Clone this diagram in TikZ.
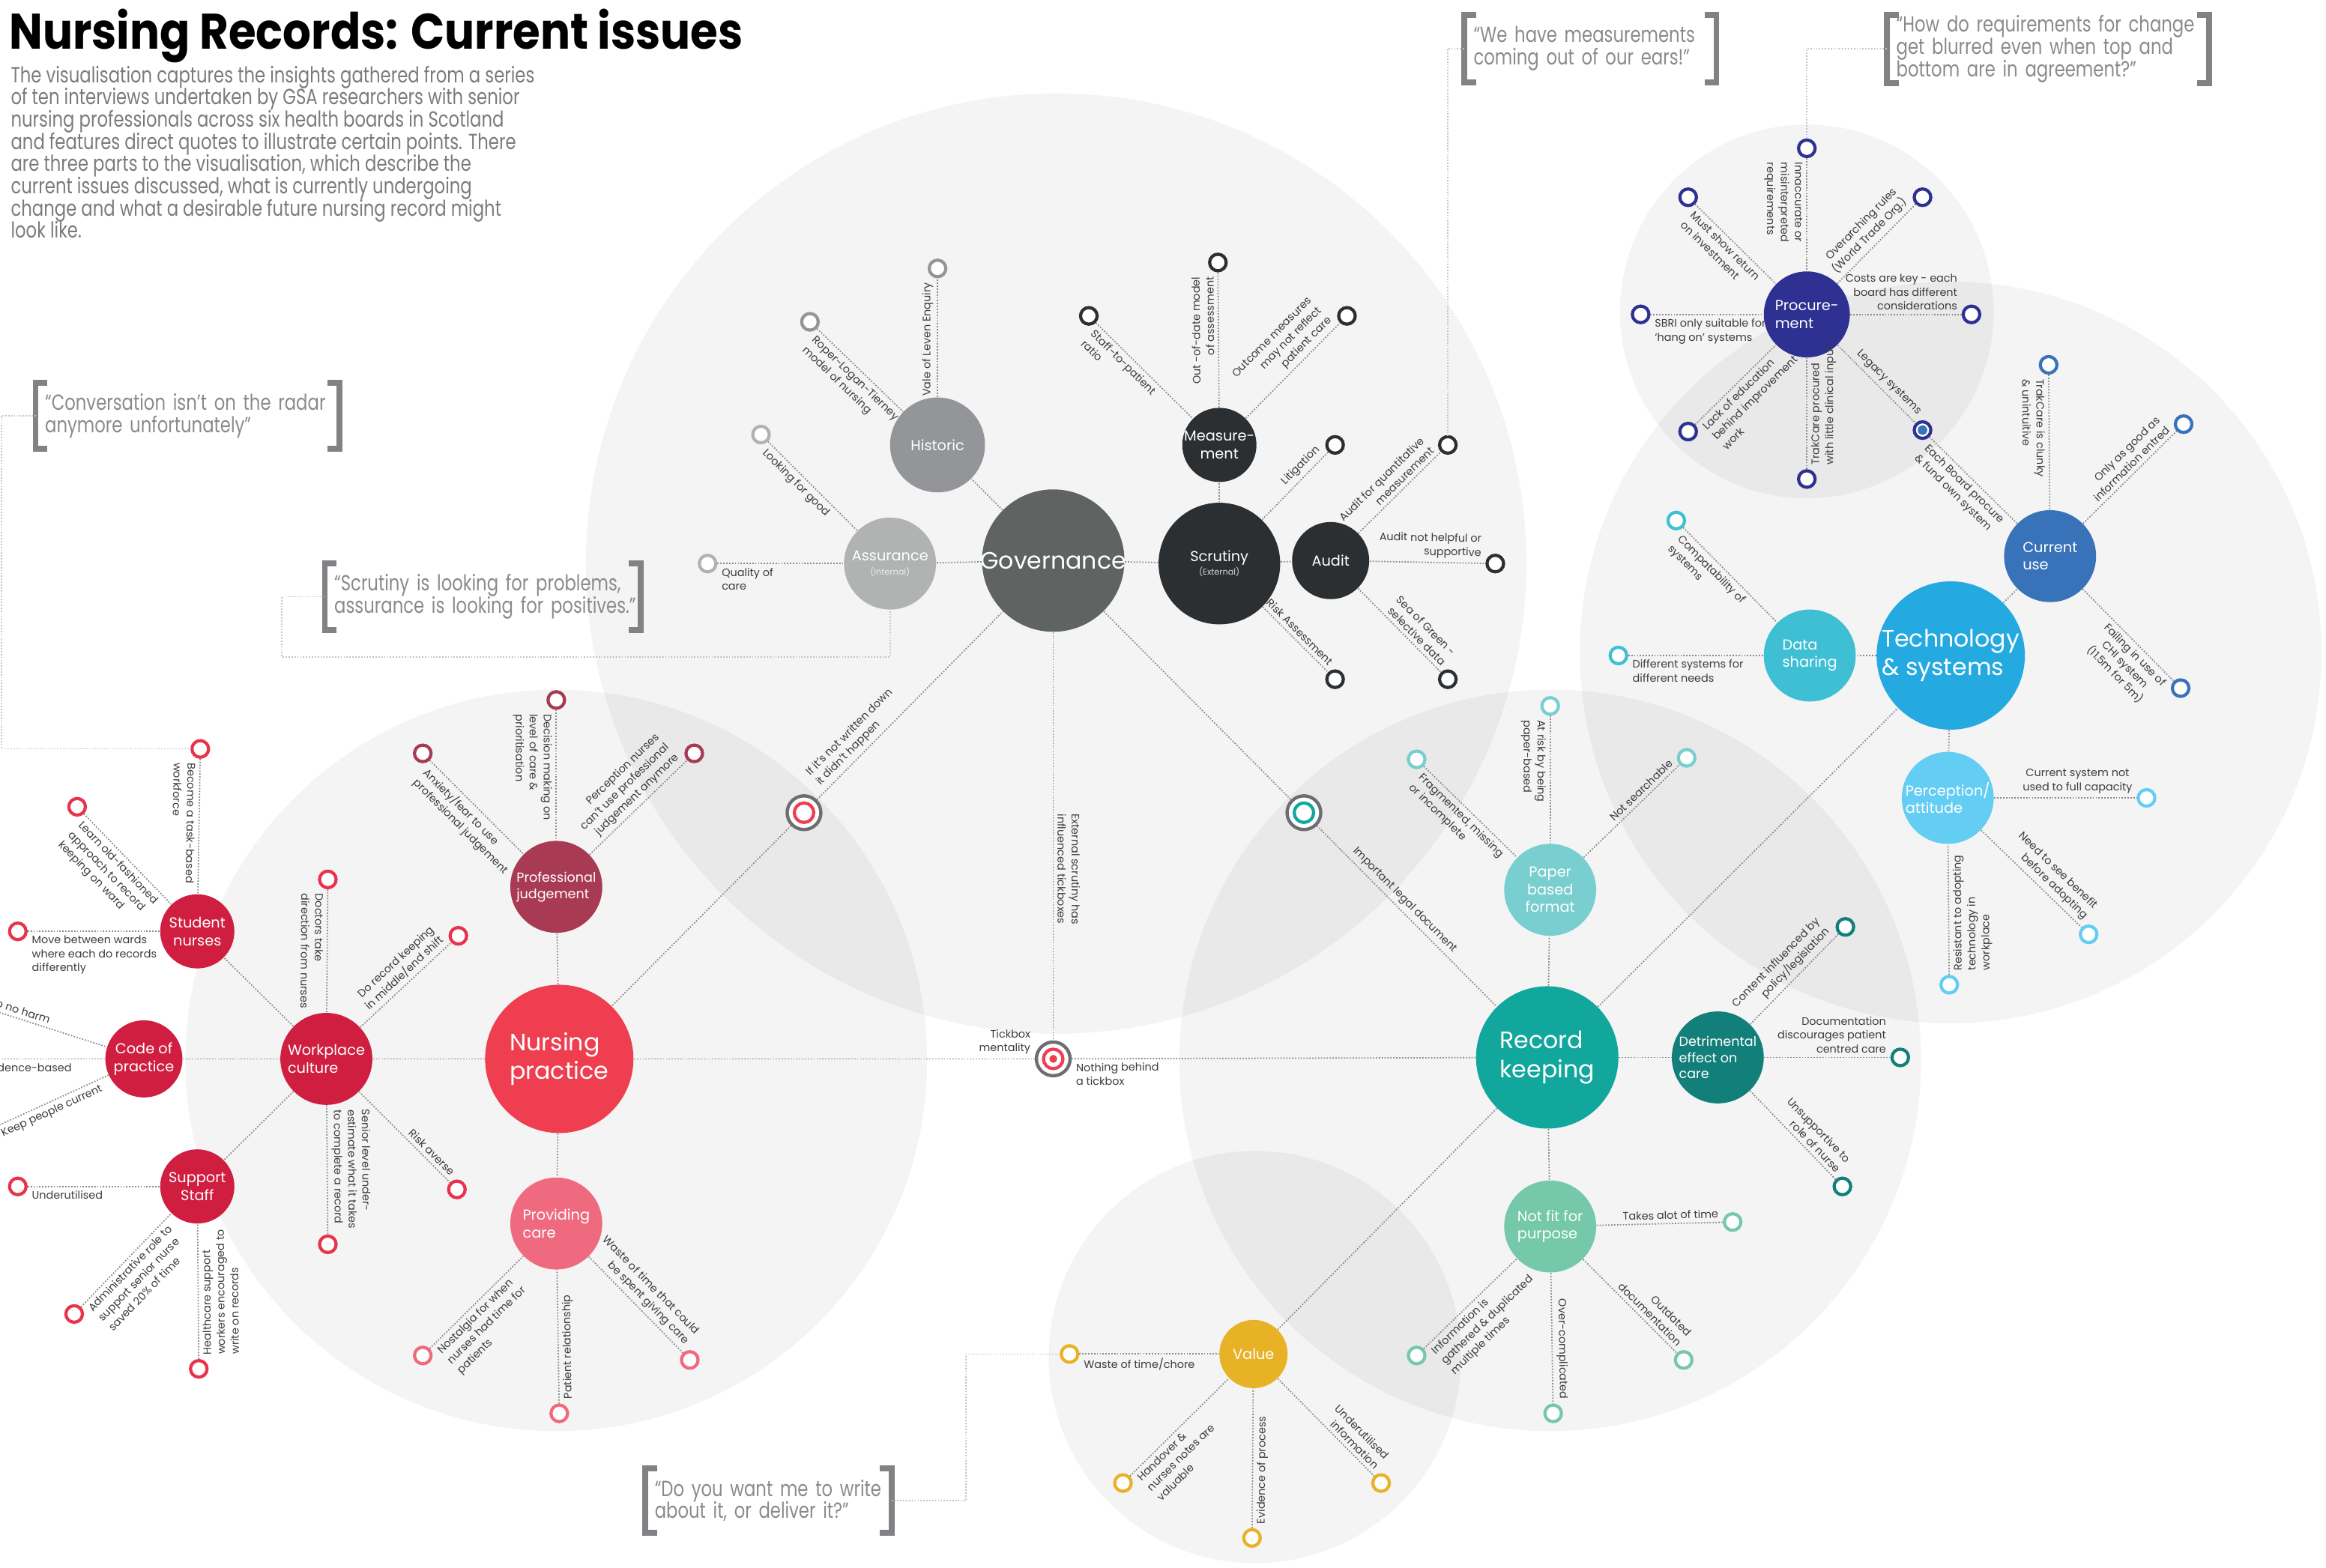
\documentclass[tikz,border=0pt]{standalone}
\usepackage{fontspec}
\setmainfont{Poppins}
\newfontfamily\condf[FakeStretch=0.78]{Poppins}
\newfontfamily\titlef[FakeStretch=0.89]{Poppins}
\usetikzlibrary{calc}
\definecolor{dotc}{HTML}{8A8A8A}
\definecolor{qlc}{HTML}{C4C4C4}
\definecolor{lblc}{HTML}{3C3C3C}
\definecolor{qtc}{HTML}{8A8A8A}
\definecolor{parc}{HTML}{7B7B7B}
\definecolor{brc}{HTML}{808285}
\definecolor{cGov}{HTML}{5F6362}
\definecolor{cHis}{HTML}{939598}
\definecolor{cAss}{HTML}{B1B3B3}
\definecolor{cScr}{HTML}{2B2F31}
\definecolor{cNP}{HTML}{EE3E50}
\definecolor{cPJ}{HTML}{A93A54}
\definecolor{cPC}{HTML}{F06A7F}
\definecolor{cWC}{HTML}{D01E40}
\definecolor{cWL}{HTML}{E8334B}
\definecolor{cRK}{HTML}{12A79D}
\definecolor{cPB}{HTML}{79CED0}
\definecolor{cDE}{HTML}{127F7B}
\definecolor{cNF}{HTML}{75C8AA}
\definecolor{cVal}{HTML}{E8B227}
\definecolor{cTech}{HTML}{25A9E1}
\definecolor{cDS}{HTML}{3FBFD4}
\definecolor{cCU}{HTML}{3873BA}
\definecolor{cPA}{HTML}{64CDF4}
\definecolor{cPro}{HTML}{2E3192}
\definecolor{cTgt}{HTML}{6D6E71}
\newcommand\tightls{\lineskiplimit=-20pt\lineskip=0pt}
\newcommand\lblf{\fontsize{4.1}{5.3}\selectfont\tightls}
\newcommand\midf{\fontsize{5.5}{6.7}\selectfont\tightls}
\newcommand\smf{\fontsize{5.0}{6.2}\selectfont\tightls}
\newcommand\bigf{\fontsize{9}{11}\selectfont\tightls}
\newcommand\subf{\fontsize{3.2}{3.6}\selectfont}
\newcommand\quotef{\condf\fontsize{8.3}{8.45}\selectfont\tightls}
\newcommand\qbrackets[2]{%
  \draw[brk] ($(#1.north west)+(8,0)$) -- (#1.north west) -- (#1.south west) -- ($(#1.south west)+(8,0)$);
  \draw[brk] ($(#1.north west -| #2)+(-8,0)$) -- (#1.north west -| #2) -- (#1.south west -| #2) -- ($(#1.south west -| #2)+(-8,0)$);}
\begin{document}
\begin{tikzpicture}[x=0.19796mm,y=-0.19796mm,
  hub/.style={circle,fill=#1,inner sep=0pt,draw=none},
  rad/.style={minimum size=#1*0.39592mm},
  htxt/.style={text=white,inner sep=0pt,align=center},
  lf/.style={circle,draw=#1,fill=white,line width=1.2pt,minimum size=6.3pt,inner sep=0pt},
  tgtO/.style={circle,draw=cTgt,fill=white,line width=1.25pt,minimum size=12.8pt,inner sep=0pt},
  tgtI/.style={circle,draw=#1,line width=1.2pt,minimum size=7.4pt,inner sep=0pt},
  conn/.style={draw=dotc,line width=0.5pt,dash pattern=on 0.5pt off 0.6pt},
  qline/.style={draw=qlc,line width=0.45pt,dash pattern=on 0.5pt off 0.6pt},
  lb/.style={font=\lblf,text=lblc,sloped,allow upside down,inner sep=1.4pt},
  brk/.style={draw=brc,line width=2.2pt},
  qt/.style={font=\quotef,text=qtc,align=left,inner xsep=3.4pt,inner ysep=0pt,anchor=north west,text width=150pt},
  bg/.style={fill=black,fill opacity=0.045}]
\useasboundingbox (0,0) rectangle (1568,1056.8);
\clip (0,0) rectangle (1568,1056.8);
% background circles
\fill[bg] (712,380) circle (317);
\fill[bg] (375,715) circle (250);
\fill[bg] (1045,715) circle (250);
\fill[bg] (1315,440) circle (250);
\fill[bg] (1218,210) circle (126);
\fill[bg] (846,915) circle (139);
% title and intro
\node[anchor=base west,inner sep=0pt,font=\titlef\bfseries\fontsize{19}{20}\selectfont] (title) at (6,33) {Nursing Records: Current issues};
\node[anchor=north west,inner sep=0pt,align=left,font=\quotef,text=parc] (intro) at (7,44) {The visualisation captures the insights gathered from a series\\of ten interviews undertaken by GSA researchers with senior\\nursing professionals across six health boards in Scotland\\and features direct quotes to illustrate certain points. There\\are three parts to the visualisation, which describe the\\current issues discussed, what is currently undergoing\\change and what a desirable future nursing record might\\look like.};
% quotes
\coordinate (q1r) at (1157,0);
\coordinate (q2r) at (1489,0);
\coordinate (q3r) at (229,0);
\coordinate (q4r) at (432,0);
\coordinate (q5r) at (601,0);
\node[qt,minimum height=25.3pt] (q1) at (987,10) {“We have measurements\\coming out of our ears!”};
\node[qt,minimum height=25.3pt] (q2) at (1272,10) {“How do requirements for change\\get blurred even when top and\\bottom are in agreement?”};
\node[qt,minimum height=24.75pt] (q3) at (24,258) {“Conversation isn’t on the radar\\anymore unfortunately”};
\node[qt,minimum height=24.75pt] (q4) at (219,380) {“Scrutiny is looking for problems,\\assurance is looking for positives.”};
\node[qt,minimum height=24.2pt] (q5) at (435,990) {“Do you want me to write\\about it, or deliver it?”};
\qbrackets{q1}{q1r}\qbrackets{q2}{q2r}\qbrackets{q3}{q3r}\qbrackets{q4}{q4r}\qbrackets{q5}{q5r}
% ---------- hubs ----------
\node[hub=cGov,rad=48] (gov) at (710,378) {};
\node[hub=cHis,rad=32] (his) at (632,300) {};
\node[hub=cAss,rad=31] (asr) at (600,380) {};
\node[hub=cScr,rad=25] (mea) at (822,300) {};
\node[hub=cScr,rad=41] (scr) at (822,380) {};
\node[hub=cScr,rad=26] (aud) at (897,378) {};
\node[hub=cNP,rad=50] (np) at (377,714) {};
\node[hub=cPJ,rad=31] (pj) at (375,598) {};
\node[hub=cPC,rad=31] (pc) at (375,825) {};
\node[hub=cWC,rad=31] (wc) at (220,714) {};
\node[hub=cWC,rad=25] (sn) at (133,628) {};
\node[hub=cWC,rad=26] (cp) at (97,714) {};
\node[hub=cWC,rad=25] (ss) at (133,800) {};
\node[hub=cRK,rad=48] (rk) at (1043,713) {};
\node[hub=cPB,rad=31] (pb) at (1045,600) {};
\node[hub=cDE,rad=31] (de) at (1158,713) {};
\node[hub=cNF,rad=31] (nf) at (1045,827) {};
\node[hub=cVal,rad=23] (val) at (845,913) {};
\node[hub=cTech,rad=50] (tech) at (1315,442) {};
\node[hub=cDS,rad=31] (ds) at (1220,442) {};
\node[hub=cCU,rad=31] (cu) at (1382,375) {};
\node[hub=cPA,rad=31] (pa) at (1313,538) {};
\node[hub=cPro,rad=29] (pro) at (1218,212) {};
% hub texts
\node[htxt,font=\bigf] (govT) at (gov) {Governance};
\node[htxt,font=\midf] (hisT) at (his) {Historic};
\node[htxt,font=\midf] (asrT) at (asr) {Assurance\\[-1.5pt]{\subf\color{white!75!cAss}(Internal)}};
\node[htxt,font=\midf] (meaT) at (mea) {Measure-\\ment};
\node[htxt,font=\midf] (scrT) at (scr) {Scrutiny\\[-1.5pt]{\subf\color{white!80!cScr}(External)}};
\node[htxt,font=\midf] (audT) at (aud) {Audit};
\node[htxt,font=\bigf,align=left] (npT) at (np) {Nursing\\practice};
\node[htxt,font=\smf,align=left] (pjT) at (pj) {Professional\\judgement};
\node[htxt,font=\midf,align=left] (pcT) at (pc) {Providing\\care};
\node[htxt,font=\midf,align=left] (wcT) at (wc) {Workplace\\culture};
\node[htxt,font=\midf] (snT) at (sn) {Student\\nurses};
\node[htxt,font=\midf] (cpT) at (cp) {Code of\\practice};
\node[htxt,font=\midf] (ssT) at (ss) {Support\\Staff};
\node[htxt,font=\bigf,align=left] (rkT) at (rk) {Record\\keeping};
\node[htxt,font=\midf] (pbT) at (pb) {Paper\\based\\format};
\node[htxt,font=\smf,align=left] (deT) at (de) {Detrimental\\effect on\\care};
\node[htxt,font=\midf,align=left] (nfT2) at (nf) {Not fit for\\purpose};
\node[htxt,font=\midf] (valT) at (val) {Value};
\node[htxt,font=\bigf,align=left] (techT) at (tech) {Technology\\\& systems};
\node[htxt,font=\midf,align=left] (dsT) at (ds) {Data\\sharing};
\node[htxt,font=\midf,align=left] (cuT2) at (cu) {Current\\use};
\node[htxt,font=\midf,align=left] (paT) at (pa) {Perception/\\attitude};
\node[htxt,font=\midf,align=left] (proT) at (pro) {Procure-\\ment};
% targets
\node[tgtO] (tL) at (542,548) {}; \node[tgtI=cNP] (tLi) at (tL) {};
\node[tgtO] (tR) at (879,548) {}; \node[tgtI=cRK] (tRi) at (tR) {};
\node[tgtO] (tC) at (710,714) {}; \node[tgtI=cNP] (tCi) at (tC) {};
\node[circle,fill=cNP,minimum size=3pt,inner sep=0pt] (tCd) at (tC) {};
% ---------- leaves ----------
\node[lf=cHis] (hVale) at (632,181) {};
\node[lf=cHis] (hRoper) at (546,217) {};
\node[lf=cAss] (aLook) at (513,293) {};
\node[lf=cAss] (aQual) at (477,380) {};
\node[lf=cScr] (mStaff) at (734,213) {};
\node[lf=cScr] (mOut) at (821,177) {};
\node[lf=cScr] (mOutc) at (908,213) {};
\node[lf=cScr] (sLit) at (900,300) {};
\node[lf=cScr] (sRisk) at (900,458) {};
\node[lf=cScr] (auQ) at (976,300) {};
\node[lf=cScr] (auH) at (1008,380) {};
\node[lf=cScr] (auS) at (976,458) {};
\node[lf=cPJ] (pjA) at (285,508) {};
\node[lf=cPJ] (pjD) at (375,472) {};
\node[lf=cPJ] (pjP) at (468,508) {};
\node[lf=cPC] (pcN) at (285,914) {};
\node[lf=cPC] (pcP) at (377,953) {};
\node[lf=cPC] (pcW) at (465,917) {};
\node[lf=cWL] (wDoc) at (221,593) {};
\node[lf=cWL] (wRec) at (309,631) {};
\node[lf=cWL] (wRisk) at (308,802) {};
\node[lf=cWL] (wSen) at (221,839) {};
\node[lf=cWL] (sBec) at (135,505) {};
\node[lf=cWL] (sLearn) at (52,544) {};
\node[lf=cWL] (sMove) at (12,628) {};
\node[lf=cWL] (cHarm) at (-18,677) {};
\node[lf=cWL] (cEvid) at (-21,714) {};
\node[lf=cWL] (cKeep) at (-10,763) {};
\node[lf=cWL] (ssU) at (12,800) {};
\node[lf=cWL] (ssA) at (50,886) {};
\node[lf=cWL] (ssH) at (134,923) {};
\node[lf=cPB] (pbF) at (955,512) {};
\node[lf=cPB] (pbA) at (1045,476) {};
\node[lf=cPB] (pbN) at (1137,511) {};
\node[lf=cDE] (deC) at (1244,625) {};
\node[lf=cDE] (deD) at (1281,713) {};
\node[lf=cDE] (deU) at (1242,800) {};
\node[lf=cNF] (nfT) at (1168,824) {};
\node[lf=cNF] (nfO) at (1135,917) {};
\node[lf=cNF] (nfC) at (1047,953) {};
\node[lf=cNF] (nfI) at (955,914) {};
\node[lf=cVal] (vW) at (721,913) {};
\node[lf=cVal] (vH) at (757,1000) {};
\node[lf=cVal] (vE) at (844,1037) {};
\node[lf=cVal] (vU) at (931,1000) {};
\node[lf=cPro] (prI) at (1218,100) {};
\node[lf=cPro] (prO) at (1296,133) {};
\node[lf=cPro] (prC) at (1329,212) {};
\node[lf=cPro] (prL) at (1296,290) {};
\node[circle,fill=cCU,minimum size=3.6pt,inner sep=0pt] (prLd) at (prL) {};
\node[lf=cPro] (prT) at (1218,323) {};
\node[lf=cPro] (prE) at (1138,291) {};
\node[lf=cPro] (prS) at (1106,212) {};
\node[lf=cPro] (prM) at (1138,133) {};
\node[lf=cCU] (cuT) at (1381,246) {};
\node[lf=cCU] (cuO) at (1472,286) {};
\node[lf=cCU] (cuF) at (1470,464) {};
\node[lf=cDS] (dsC) at (1130,351) {};
\node[lf=cDS] (dsD) at (1091,442) {};
\node[lf=cPA] (paC) at (1447,538) {};
\node[lf=cPA] (paN) at (1408,630) {};
\node[lf=cPA] (paR) at (1314,664) {};
% ---------- quote connectors ----------
\coordinate (q3c) at (1,400);
\coordinate (q4c) at (190,443);
\coordinate (q5c) at (651,960);
\draw[qline] (q1.west) -| (auQ.north);
\draw[qline] (q2.west) -| (prI.north);
\draw[qline] (q3.west) -| (q3c) |- (sBec.west);
\draw[qline] (q4.west) -| (q4c) -| (asr.south);
\draw[qline] (q5.west -| q5r) -| (q5c) |- (vW.west);
% ---------- governance connectors ----------
\draw[conn] (gov) -- (his);
\draw[conn] (gov) -- (asr);
\draw[conn] (gov) -- (scr);
\draw[conn] (scr) -- (mea);
\draw[conn] (scr) -- (aud);
\draw[conn] (his) -- node[lb,pos=1,anchor=south east]{Vale of Leven Enquiry} (hVale);
\draw[conn] (hRoper) -- node[lb,pos=0,anchor=north west,align=left]{Roper-Logan-Tierney\\model of nursing} (his);
\draw[conn] (aLook) -- node[lb,pos=0,anchor=north west]{Looking for good} (asr);
\draw[conn] (aQual) -- node[lb,pos=0,anchor=north west,align=left]{Quality of\\care} (asr);
\draw[conn] (mStaff) -- node[lb,pos=0,anchor=north west,align=left]{Staff-to-patient\\ratio} (mea);
\draw[conn] (mea) -- node[lb,pos=1,anchor=south east,align=right]{Out -of-date model\\of assessment} (mOut);
\draw[conn] (mea) -- node[lb,pos=1,anchor=south east,align=right]{Outcome measures\\may not reflect\\patient care} (mOutc);
\draw[conn] (scr) -- node[lb,pos=1,anchor=south east]{Litigation} (sLit);
\draw[conn] (scr) -- node[lb,pos=1,anchor=south east]{Risk Assessment} (sRisk);
\draw[conn] (aud) -- node[lb,pos=1,anchor=south east,align=right]{Audit for quantitative\\measurement} (auQ);
\draw[conn] (aud) -- node[lb,pos=1,anchor=south east,align=right]{Audit not helpful or\\supportive} (auH);
\draw[conn] (aud) -- node[lb,pos=1,anchor=south east,align=right]{Sea of Green -\\selective data} (auS);
% central links
\draw[conn] (tL) -- node[lb,pos=0.03,anchor=south west,align=left]{If it’s not written down\\it didn’t happen} (gov);
\draw[conn] (tL) -- (np);
\draw[conn] (gov) -- (tR);
\draw[conn] (tR) -- node[lb,pos=0.45,anchor=south]{Important legal document} (rk);
\draw[conn] (gov) -- node[lb,pos=0.58,anchor=south,align=center]{External scrutiny has\\influenced tickboxes} (tC);
\draw[conn] (np) -- node[lb,pos=1,anchor=south east,align=right]{Tickbox\\mentality} (tC);
\draw[conn] (tC) -- node[lb,pos=0,anchor=north west,align=left]{Nothing behind\\a tickbox} (rk);
% ---------- nursing connectors ----------
\draw[conn] (np) -- (pj);
\draw[conn] (np) -- (pc);
\draw[conn] (np) -- (wc);
\draw[conn] (wc) -- (sn);
\draw[conn] (wc) -- (cp);
\draw[conn] (wc) -- (ss);
\draw[conn] (pjA) -- node[lb,pos=0,anchor=north west,align=left]{Anxiety/fear to use\\professional judgement} (pj);
\draw[conn] (pjD) -- node[lb,pos=0,anchor=north west,align=left]{Decision making on\\level of care \&\\prioritisation} (pj);
\draw[conn] (pj) -- node[lb,pos=1,anchor=south east,align=right]{Perception nurses\\can’t use professional\\judgement anymore} (pjP);
\draw[conn] (pcN) -- node[lb,pos=0,anchor=north west,align=left]{Nostalgia for when\\nurses had time for\\patients} (pc);
\draw[conn] (pcP) -- node[lb,pos=0,anchor=north west]{Patient relationship} (pc);
\draw[conn] (pc) -- node[lb,pos=1,anchor=south east,align=right]{Waste of time that could\\be spent giving care} (pcW);
\draw[conn] (wDoc) -- node[lb,pos=0,anchor=north west,align=left]{Doctors take\\direction from nurses} (wc);
\draw[conn] (wc) -- node[lb,pos=1,anchor=south east,align=right]{Do record keeping\\in middle/end shift} (wRec);
\draw[conn] (wc) -- node[lb,pos=1,anchor=south east]{Risk averse} (wRisk);
\draw[conn] (wc) -- node[lb,pos=0,anchor=south west,align=left]{Senior level under-\\estimate what it takes\\to complete a record} (wSen);
\draw[conn] (sBec) -- node[lb,pos=0,anchor=north west,align=left]{Become a task-based\\workforce} (sn);
\draw[conn] (sLearn) -- node[lb,pos=0,anchor=north west,align=left]{Learn old-fashioned\\approach to record\\keeping on ward} (sn);
\draw[conn] (sMove) -- node[lb,pos=0,anchor=north west,align=left]{Move between wards\\where each do records\\differently} (sn);
\draw[conn] (cHarm) -- node[lb,pos=0,anchor=south west]{Do no harm} (cp);
\draw[conn] (cEvid) -- node[lb,pos=0,anchor=north west]{Evidence-based} (cp);
\draw[conn] (cKeep) -- node[lb,pos=0,anchor=north west]{Keep people current} (cp);
\draw[conn] (ssU) -- node[lb,pos=0,anchor=north west]{Underutilised} (ss);
\draw[conn] (ssA) -- node[lb,pos=0,anchor=north west,align=left]{Administrative role to\\support senior nurse\\saved 20\% of time} (ss);
\draw[conn] (ssH) -- node[lb,pos=0,anchor=north west,align=left]{Healthcare support\\workers encouraged to\\write on records} (ss);
% ---------- record keeping connectors ----------
\draw[conn] (rk) -- (pb);
\draw[conn] (rk) -- (de);
\draw[conn] (rk) -- (nf);
\draw[conn] (rk) -- (val);
\draw[conn] (rk) -- (tech);
\draw[conn] (pbF) -- node[lb,pos=0,anchor=north west,align=left]{Fragmented, missing\\or incomplete} (pb);
\draw[conn] (pbA) -- node[lb,pos=0,anchor=north west,align=left]{At risk by being\\paper-based} (pb);
\draw[conn] (pb) -- node[lb,pos=1,anchor=south east]{Not searchable} (pbN);
\draw[conn] (de) -- node[lb,pos=1,anchor=south east,align=right]{Content influenced by\\policy/legislation} (deC);
\draw[conn] (de) -- node[lb,pos=1,anchor=south east,align=right]{Documentation\\discourages patient\\centred care} (deD);
\draw[conn] (de) -- node[lb,pos=1,anchor=south east,align=right]{Unsupportive to\\role of nurse} (deU);
\draw[conn] (nf) -- node[lb,pos=1,anchor=south east]{Takes alot of time} (nfT);
\draw[conn] (nf) -- node[lb,pos=1,anchor=south east,align=right]{Outdated\\documentation} (nfO);
\draw[conn] (nf) -- node[lb,pos=1,anchor=south east]{Over-complicated} (nfC);
\draw[conn] (nfI) -- node[lb,pos=0,anchor=north west,align=left]{Information is\\gathered \& duplicated\\multiple times} (nf);
\draw[conn] (vW) -- node[lb,pos=0,anchor=north west]{Waste of time/chore} (val);
\draw[conn] (vH) -- node[lb,pos=0,anchor=north west,align=left]{Handover \&\\nurses notes are\\valuable} (val);
\draw[conn] (vE) -- node[lb,pos=0,anchor=north west]{Evidence of process} (val);
\draw[conn] (val) -- node[lb,pos=1,anchor=south east,align=right]{Underutilised\\information} (vU);
% ---------- technology connectors ----------
\draw[conn] (tech) -- (ds);
\draw[conn] (tech) -- (cu);
\draw[conn] (tech) -- (pa);
\draw[conn] (prI) -- node[lb,pos=0,anchor=north west,align=left]{Innaccurate or\\misinterpreted\\requirements} (pro);
\draw[conn] (pro) -- node[lb,pos=1,anchor=south east,align=right]{Overarching rules\\(World Trade Org.)} (prO);
\draw[conn] (pro) -- node[lb,pos=1,anchor=south east,align=right]{Costs are key - each\\board has different\\considerations} (prC);
\draw[conn] (pro) -- node[lb,pos=1,anchor=south east]{Legacy systems} (prL);
\draw[conn] (prT) -- node[lb,pos=0,anchor=north west,align=left]{TrakCare procured\\with little clinical input} (pro);
\draw[conn] (prE) -- node[lb,pos=0,anchor=north west,align=left]{Lack of education\\behind improvement\\work} (pro);
\draw[conn] (prS) -- node[lb,pos=0,anchor=north west,align=left]{SBRI only suitable for\\‘hang on’ systems} (pro);
\draw[conn] (prM) -- node[lb,pos=0,anchor=north west,align=left]{Must show return\\on investment} (pro);
\draw[conn] (prL) -- node[lb,pos=0,anchor=north west,align=left]{Each Board procure\\\& fund own system} (cu);
\draw[conn] (cuT) -- node[lb,pos=0,anchor=north west,align=left]{TrakCare is clunky\\\& unintuitive} (cu);
\draw[conn] (cu) -- node[lb,pos=1,anchor=south east,align=right]{Only as good as\\information entred} (cuO);
\draw[conn] (cu) -- node[lb,pos=1,anchor=north east,align=center]{Failing in use of\\CHI system\\(11.5m for 5m)} (cuF);
\draw[conn] (dsC) -- node[lb,pos=0,anchor=north west,align=left]{Compatability of\\systems} (ds);
\draw[conn] (dsD) -- node[lb,pos=0,anchor=north west,align=left]{Different systems for\\different needs} (ds);
\draw[conn] (pa) -- node[lb,pos=1,anchor=south east,align=center]{Current system not\\used to full capacity} (paC);
\draw[conn] (pa) -- node[lb,pos=1,anchor=south east,align=right]{Need to see benefit\\before adopting} (paN);
\draw[conn] (paR) -- node[lb,pos=0,anchor=north west,align=left]{Resistant to adopting\\technology in\\workplace} (pa);
\end{tikzpicture}
\end{document}
